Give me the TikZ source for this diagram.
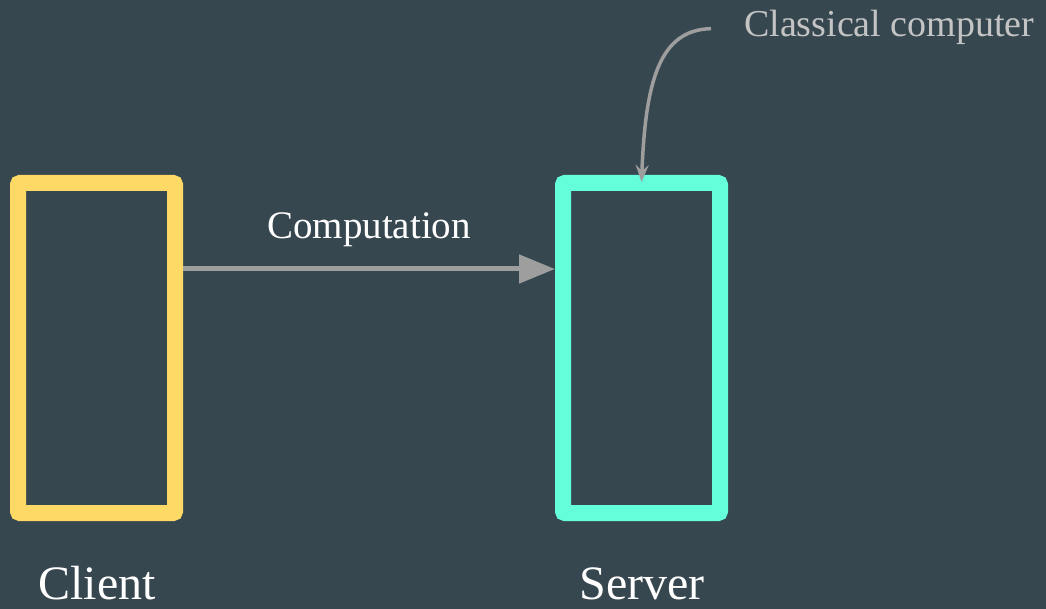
\documentclass[tikz,border=0pt]{standalone}
\usepackage{fontspec}
\setmainfont{Liberation Serif}
\usetikzlibrary{arrows.meta}
\definecolor{bgc}{HTML}{37474F}
\definecolor{clientc}{HTML}{FFD966}
\definecolor{serverc}{HTML}{64FFDA}
\definecolor{arrowc}{HTML}{9E9E9E}
\definecolor{notec}{HTML}{C4C4C4}
\begin{document}
\begin{tikzpicture}[x=1pt,y=-1pt,
  machine/.style={draw, line width=16pt, rounded corners=2pt, minimum width=157pt, minimum height=330pt, inner sep=0pt},
  flow/.style={draw=arrowc, line width=5pt, -{Triangle[length=36pt,width=28pt]}},
  pointer/.style={draw=arrowc, line width=3.5pt, -{Stealth[length=17pt,width=13pt,inset=6pt]}},
  lbl/.style={inner sep=0pt, text=white}]
\fill[bgc] (0,0) rectangle (1046,609);
\useasboundingbox (0,0) rectangle (1046,609);
\node[machine, draw=clientc] (client) at (96.5,348) {};
\node[machine, draw=serverc] (server) at (641.5,348) {};
\node[lbl, anchor=base, font=\fontsize{48}{54}\selectfont] (clientlbl) at (97,599) {Client};
\node[lbl, anchor=base, font=\fontsize{48}{54}\selectfont] (serverlbl) at (642,599) {Server};
\node[lbl, anchor=base, font=\fontsize{39}{44}\selectfont] (comp) at (369,239) {Computation};
\node[lbl, anchor=base west, text=notec, font=\fontsize{38}{43}\selectfont] (cc) at (744,37) {Classical computer};
\draw[flow] ([yshift=79pt]client.east) -- ([yshift=79pt]server.west);
\draw[pointer, shorten <=33pt] (cc.west) .. controls +(-85,2) and +(4,-100) .. ([yshift=-7pt]server.north);
\end{tikzpicture}
\end{document}
